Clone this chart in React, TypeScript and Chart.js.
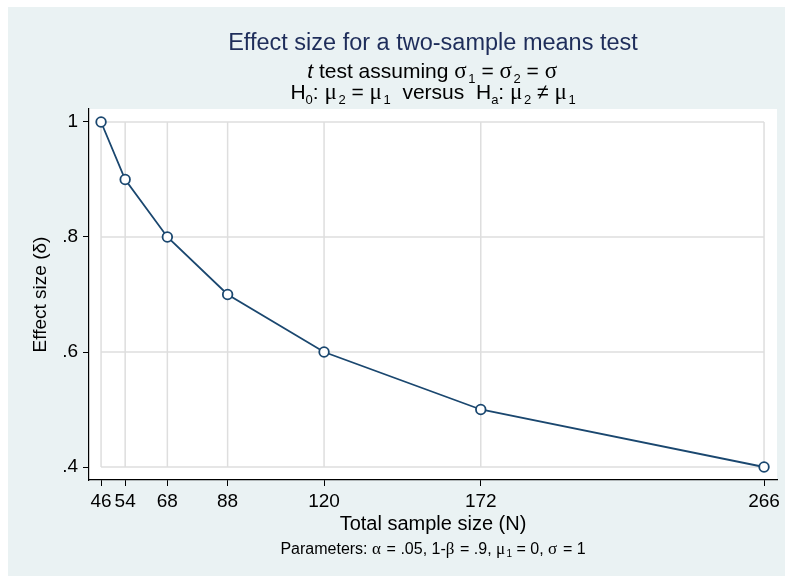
import React, { useEffect, useRef } from "react";
import { Chart, registerables } from "chart.js";

Chart.register(...registerables);

// ---------- data ----------
const sampleSizes = [46, 54, 68, 88, 120, 172, 266];
const effectSizes = [1, 0.9, 0.8, 0.7, 0.6, 0.5, 0.4];
const xTickValues = [46, 54, 68, 88, 120, 172, 266];
const yTickValues = [0.4, 0.6, 0.8, 1];

// ---------- text ----------
type Seg = { t: string; sub?: boolean; it?: boolean; greek?: boolean };
const titleText = "Effect size for a two-sample means test";
const subtitle1: Seg[] = [
  { t: "t", it: true },
  { t: " test assuming " },
  { t: "σ", greek: true },
  { t: "1", sub: true },
  { t: " = " },
  { t: "σ", greek: true },
  { t: "2", sub: true },
  { t: " = " },
  { t: "σ", greek: true },
];
const subtitle2: Seg[] = [
  { t: "H" },
  { t: "0", sub: true },
  { t: ": " },
  { t: "μ", greek: true },
  { t: "2", sub: true },
  { t: " = " },
  { t: "μ", greek: true },
  { t: "1", sub: true },
  { t: "  versus  " },
  { t: "H" },
  { t: "a", sub: true },
  { t: ": " },
  { t: "μ", greek: true },
  { t: "2", sub: true },
  { t: " ≠ " },
  { t: "μ", greek: true },
  { t: "1", sub: true },
];
const noteSegs: Seg[] = [
  { t: "Parameters: " },
  { t: "α", greek: true },
  { t: " = .05, 1-" },
  { t: "β", greek: true },
  { t: " = .9, " },
  { t: "μ", greek: true },
  { t: "1", sub: true },
  { t: " = 0, " },
  { t: "σ", greek: true },
  { t: " = 1" },
];
const xAxisTitle = "Total sample size (N)";
const yAxisTitle = "Effect size (δ)";

const SANS = '"Liberation Sans", Arial, Helvetica, sans-serif';
const GREEK = '"Liberation Serif", "DejaVu Serif", serif';
const BG = "#EAF2F3";
const LINE = "#1A476F";
const TITLE_COLOR = "#1E2D5A";
const GRID = "#DEDEDE";

function segFont(s: Seg, size: number) {
  const base = s.greek ? size * 1.12 : size;
  const sz = s.sub ? Math.round(size * 0.62) : Math.round(base);
  return `${s.it ? "italic " : ""}${sz}px ${s.greek ? GREEK : SANS}`;
}

function drawRich(
  ctx: CanvasRenderingContext2D,
  segs: Seg[],
  cx: number,
  baseline: number,
  size: number,
  color: string
) {
  ctx.save();
  ctx.fillStyle = color;
  ctx.textAlign = "left";
  ctx.textBaseline = "alphabetic";
  const widths = segs.map((s) => {
    ctx.font = segFont(s, size);
    return ctx.measureText(s.t).width + (s.greek ? size * 0.08 : 0);
  });
  const total = widths.reduce((a, b) => a + b, 0);
  let x = cx - total / 2;
  segs.forEach((s, i) => {
    ctx.font = segFont(s, size);
    ctx.fillText(s.t, x, baseline + (s.sub ? size * 0.22 : 0));
    x += widths[i];
  });
  ctx.restore();
}

const backgroundPlugin = {
  id: "stataBackground",
  beforeDraw(chart: any) {
    const { ctx, chartArea, width, height } = chart;
    ctx.save();
    ctx.fillStyle = BG;
    ctx.fillRect(0, 0, width, height);
    ctx.fillStyle = "#FFFFFF";
    ctx.fillRect(
      chartArea.left,
      chartArea.top,
      chartArea.right - chartArea.left,
      chartArea.bottom - chartArea.top
    );
    ctx.restore();
  },
};

const innerGridPlugin = {
  id: "innerGrid",
  beforeDatasetsDraw(chart: any) {
    const { ctx } = chart;
    const xs = chart.scales.x;
    const ys = chart.scales.y;
    const x0 = xs.getPixelForValue(xTickValues[0]);
    const x1 = xs.getPixelForValue(xTickValues[xTickValues.length - 1]);
    const y0 = ys.getPixelForValue(yTickValues[yTickValues.length - 1]);
    const y1 = ys.getPixelForValue(yTickValues[0]);
    ctx.save();
    ctx.strokeStyle = GRID;
    ctx.lineWidth = 1.5;
    ctx.beginPath();
    yTickValues.forEach((v) => {
      const y = ys.getPixelForValue(v);
      ctx.moveTo(x0, y);
      ctx.lineTo(x1, y);
    });
    xTickValues.forEach((v) => {
      const x = xs.getPixelForValue(v);
      ctx.moveTo(x, y0);
      ctx.lineTo(x, y1);
    });
    ctx.stroke();
    ctx.restore();
  },
};

const titlesPlugin = {
  id: "stataTitles",
  afterDraw(chart: any) {
    const { ctx, chartArea } = chart;
    const cx = (chartArea.left + chartArea.right) / 2;
    ctx.save();
    ctx.fillStyle = TITLE_COLOR;
    ctx.font = `23.5px ${SANS}`;
    ctx.textAlign = "center";
    ctx.textBaseline = "alphabetic";
    ctx.fillText(titleText, cx, 43);
    ctx.restore();
    drawRich(ctx, subtitle1, cx, 71, 20.5, "#000");
    drawRich(ctx, subtitle2, cx, 92, 20.5, "#000");
    drawRich(ctx, noteSegs, cx, 547, 15.5, "#000");
  },
};

export default function App() {
  const ref = useRef<HTMLCanvasElement | null>(null);

  useEffect(() => {
    if (!ref.current) return;
    const chart = new Chart(ref.current, {
      type: "line",
      data: {
        datasets: [
          {
            data: sampleSizes.map((x, i) => ({ x, y: effectSizes[i] })),
            borderColor: LINE,
            borderWidth: 1.8,
            pointStyle: "circle",
            pointRadius: 4.8,
            pointBorderWidth: 1.8,
            pointBorderColor: LINE,
            pointBackgroundColor: "#FFFFFF",
            tension: 0,
            fill: false,
          },
        ],
      },
      options: {
        animation: false,
        responsive: false,
        maintainAspectRatio: false,
        devicePixelRatio: 1,
        layout: { padding: { top: 102, right: 8, bottom: 0, left: 0 } },
        plugins: {
          legend: { display: false },
          tooltip: { enabled: false },
          title: { display: false },
        },
        scales: {
          x: {
            type: "linear",
            min: 42,
            max: 270.3,
            afterBuildTicks: (scale: any) => {
              scale.ticks = xTickValues.map((v) => ({ value: v }));
            },
            afterFit: (scale: any) => {
              scale.height = 96;
            },
            ticks: {
              autoSkip: false,
              maxRotation: 0,
              minRotation: 0,
              padding: 4,
              color: "#000",
              font: { family: SANS, size: 19 },
              callback: (v: any) => String(v),
            },
            grid: {
              drawOnChartArea: false,
              drawTicks: true,
              tickLength: 6,
              tickColor: "#000",
              tickWidth: 1,
            },
            border: { display: true, color: "#000", width: 1.2 },
            title: {
              display: true,
              text: xAxisTitle,
              color: "#000",
              font: { family: SANS, size: 20 },
              padding: { top: 0, bottom: 40 },
            },
          },
          y: {
            type: "linear",
            min: 0.3774,
            max: 1.0226,
            afterBuildTicks: (scale: any) => {
              scale.ticks = yTickValues.map((v) => ({ value: v }));
            },
            afterFit: (scale: any) => {
              scale.width = 81;
            },
            ticks: {
              autoSkip: false,
              padding: 5,
              color: "#000",
              font: { family: SANS, size: 19 },
              callback: (v: any) => {
                const n = Number(v);
                return n === 1 ? "1" : String(n).replace(/^0/, "");
              },
            },
            grid: {
              drawOnChartArea: false,
              drawTicks: true,
              tickLength: 6,
              tickColor: "#000",
              tickWidth: 1,
            },
            border: { display: true, color: "#000", width: 1.2 },
            title: {
              display: true,
              text: yAxisTitle,
              color: "#000",
              font: { family: SANS, size: 19 },
              padding: { top: 21, bottom: 0 },
            },
          },
        },
      },
      plugins: [backgroundPlugin, innerGridPlugin, titlesPlugin],
    });
    return () => chart.destroy();
  }, []);

  return (
    <div style={{ position: "absolute", left: 8, top: 7, width: 777, height: 569 }}>
      <canvas ref={ref} width={777} height={569} style={{ display: "block", width: 777, height: 569 }} />
    </div>
  );
}
